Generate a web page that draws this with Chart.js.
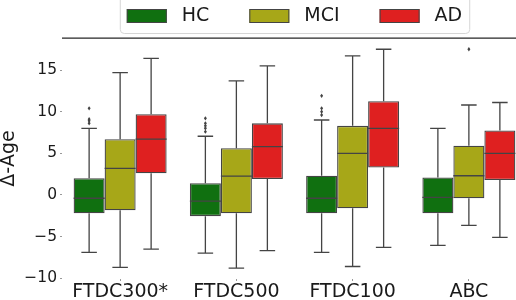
<!DOCTYPE html>
<html>
<head>
<meta charset="utf-8">
<script src="https://cdn.jsdelivr.net/npm/chart.js@4.4.0/dist/chart.umd.min.js"></script>
<style>
  html, body { margin: 0; padding: 0; background: #fff; overflow: hidden; }
  #wrap { width: 516px; height: 300px; overflow: hidden; }
</style>
</head>
<body>
<div id="wrap"><canvas id="chart" width="540" height="300"></canvas></div>
<script>
const categories = ['FTDC300*', 'FTDC500', 'FTDC100', 'ABC'];
const groups = ['HC', 'MCI', 'AD'];
const colors = ['rgb(16,112,16)', 'rgb(167,167,24)', 'rgb(223,32,32)'];
const yTicks = [-10, -5, 0, 5, 10, 15];

// HC
const hcLow = [-6.9, -7.0, -6.9, -6.05];
const hcQ1 = [-2.2, -2.55, -2.2, -2.2];
const hcMed = [-0.4, -0.75, -0.4, -0.3];
const hcQ3 = [2.0, 1.4, 2.3, 2.1];
const hcHigh = [8.0, 7.05, 9.0, 8.0];
const hcFliers = [[10.4, 9.1, 8.9, 8.6], [9.2, 8.6, 8.3, 8.0, 7.6], [11.9, 10.4, 10.0, 9.6], []];

// MCI
const mciLow = [-8.7, -8.8, -8.6, -3.65];
const mciQ1 = [-1.85, -2.2, -1.6, -0.4];
const mciMed = [3.2, 2.25, 5.0, 2.3];
const mciQ3 = [6.7, 5.6, 8.3, 5.9];
const mciHigh = [14.7, 13.7, 16.7, 10.8];
const mciFliers = [[], [], [], [17.5]];

// AD
const adLow = [-6.5, -6.7, -6.3, -5.1];
const adQ1 = [2.6, 1.9, 3.3, 1.8];
const adMed = [6.7, 5.8, 8.0, 5.0];
const adQ3 = [9.7, 8.6, 11.25, 7.75];
const adHigh = [16.4, 15.5, 17.5, 11.1];
const adFliers = [[], [], [], []];

const stats = [
  { low: hcLow, q1: hcQ1, med: hcMed, q3: hcQ3, high: hcHigh, fliers: hcFliers },
  { low: mciLow, q1: mciQ1, med: mciMed, q3: mciQ3, high: mciHigh, fliers: mciFliers },
  { low: adLow, q1: adQ1, med: adMed, q3: adQ3, high: adHigh, fliers: adFliers }
];

const lineColor = '#444444';
const FONT = "'DejaVu Sans', sans-serif";

// whiskers, caps, medians and fliers on top of the floating bars
const boxExtras = {
  id: 'boxExtras',
  afterDatasetsDraw(chart) {
    const ctx = chart.ctx;
    const ys = chart.scales.y;
    ctx.save();
    ctx.strokeStyle = lineColor;
    ctx.fillStyle = lineColor;
    ctx.lineWidth = 1.3;
    stats.forEach((s, di) => {
      const meta = chart.getDatasetMeta(di);
      meta.data.forEach((bar, i) => {
        const x = bar.x;
        const hw = bar.width / 2;
        const pLow = ys.getPixelForValue(s.low[i]);
        const pHigh = ys.getPixelForValue(s.high[i]);
        const pQ1 = ys.getPixelForValue(s.q1[i]);
        const pQ3 = ys.getPixelForValue(s.q3[i]);
        const pMed = ys.getPixelForValue(s.med[i]);
        ctx.beginPath();
        ctx.moveTo(x, pQ1); ctx.lineTo(x, pLow);
        ctx.moveTo(x, pQ3); ctx.lineTo(x, pHigh);
        ctx.moveTo(x - hw / 2, pLow); ctx.lineTo(x + hw / 2, pLow);
        ctx.moveTo(x - hw / 2, pHigh); ctx.lineTo(x + hw / 2, pHigh);
        ctx.moveTo(x - hw, pMed); ctx.lineTo(x + hw, pMed);
        ctx.stroke();
        s.fliers[i].forEach(v => {
          const py = ys.getPixelForValue(v);
          ctx.beginPath();
          ctx.moveTo(x, py - 2.2);
          ctx.lineTo(x + 1.5, py);
          ctx.lineTo(x, py + 2.2);
          ctx.lineTo(x - 1.5, py);
          ctx.closePath();
          ctx.fill();
        });
      });
    });
    ctx.restore();
  },
  afterDraw(chart) {
    const ctx = chart.ctx;
    const area = chart.chartArea;
    ctx.save();
    // top spine
    ctx.strokeStyle = '#262626';
    ctx.lineWidth = 1.25;
    ctx.beginPath();
    ctx.moveTo(area.left, area.top);
    ctx.lineTo(area.right, area.top);
    ctx.stroke();

    // legend
    ctx.font = '19px ' + FONT;
    const patchW = 40, patchH = 14, textGap = 15, itemGap = 40, pad = 7;
    const widths = groups.map(g => patchW + textGap + ctx.measureText(g).width);
    const total = widths.reduce((a, b) => a + b, 0) + itemGap * (groups.length - 1) + pad * 2;
    const cx = (area.left + area.right) / 2;
    const left = cx - total / 2;
    ctx.fillStyle = 'rgba(255,255,255,0.8)';
    ctx.strokeStyle = '#d6d6d6';
    ctx.lineWidth = 1;
    ctx.beginPath();
    ctx.roundRect(left + 0.5, -6, total, 39.5, 4);
    ctx.fill();
    ctx.stroke();
    let x = left + pad;
    groups.forEach((g, i) => {
      ctx.fillStyle = colors[i];
      ctx.fillRect(x, 9, patchW, patchH);
      ctx.strokeStyle = lineColor;
      ctx.strokeRect(x + 0.5, 9.5, patchW - 1, patchH - 1);
      ctx.fillStyle = '#1a1a1a';
      ctx.textBaseline = 'middle';
      ctx.textAlign = 'left';
      ctx.fillText(g, x + patchW + textGap, 16.5);
      x += widths[i] + itemGap;
    });
    ctx.restore();
  }
};

const datasets = stats.map((s, di) => ({
  label: groups[di],
  data: s.q1.map((v, i) => [v, s.q3[i]]),
  backgroundColor: colors[di],
  borderColor: lineColor,
  borderWidth: 1.3,
  borderSkipped: false,
  categoryPercentage: 0.8,
  barPercentage: 1.0
}));

new Chart(document.getElementById('chart'), {
  type: 'bar',
  data: { labels: categories, datasets: datasets },
  options: {
    responsive: false,
    animation: false,
    layout: { padding: { top: 38, right: 13, left: 0, bottom: 0 } },
    plugins: {
      legend: { display: false },
      tooltip: { enabled: false }
    },
    scales: {
      x: {
        grid: { display: true, drawOnChartArea: false, drawTicks: true, tickLength: 2, offset: false, color: '#999' },
        border: { display: false },
        ticks: { color: '#1a1a1a', font: { family: FONT, size: 19 }, padding: 0, maxRotation: 0 },
        afterFit(scale) { scale.height = 21; }
      },
      y: {
        min: -10.1,
        max: 18.85,
        grid: { display: true, drawOnChartArea: false, drawTicks: true, tickLength: 2, color: '#999' },
        border: { display: false },
        afterBuildTicks(scale) { scale.ticks = yTicks.map(v => ({ value: v })); },
        ticks: {
          color: '#1a1a1a',
          font: { family: FONT, size: 15.5 },
          padding: 3,
          callback: v => v < 0 ? '\u2212' + Math.abs(v) : String(v)
        },
        title: {
          display: true,
          text: '\u0394-Age',
          color: '#1a1a1a',
          font: { family: FONT, size: 19, lineHeight: 1 },
          padding: { top: 0, bottom: 0 }
        },
        afterFit(scale) { scale.width = 62; }
      }
    }
  },
  plugins: [boxExtras]
});
</script>
</body>
</html>
